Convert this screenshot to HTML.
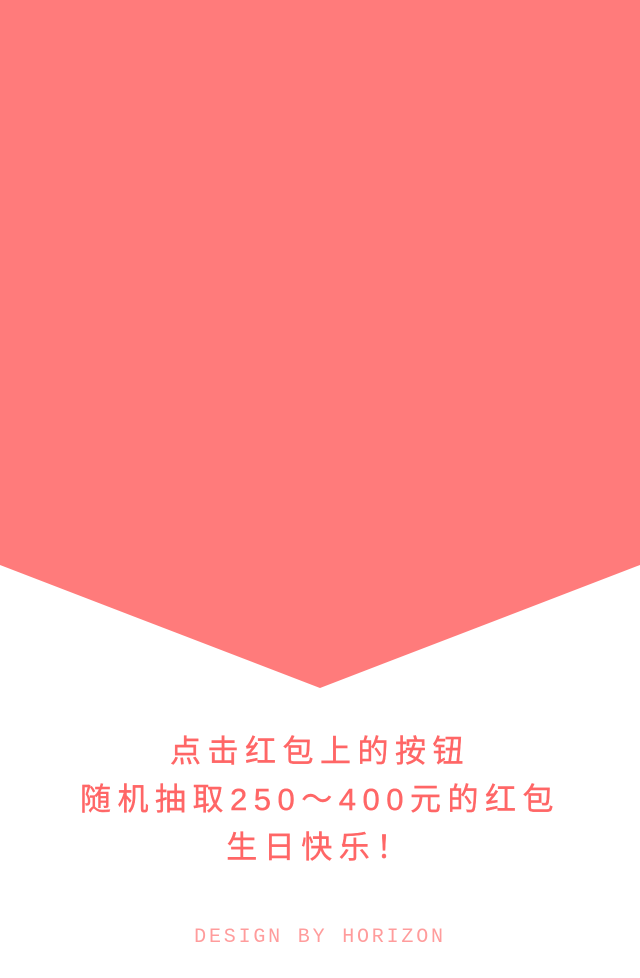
<!DOCTYPE html>
<html><head><meta charset="utf-8"><style>
html,body{margin:0;padding:0;background:#fff;}
#root{position:relative;width:640px;height:978px;overflow:hidden;background:#fff;}
svg{position:absolute;left:0;top:0;}
.line{position:absolute;left:0;width:640px;text-align:center;color:#FF6666;font-family:"Liberation Sans","WenQuanYi Zen Hei","Noto Sans CJK SC",sans-serif;font-size:31px;line-height:48px;letter-spacing:6.5px;white-space:nowrap;-webkit-text-stroke:0.4px #FF6666;}
#footer{position:absolute;left:0;width:640px;top:924px;text-align:center;color:#FF9C9C;font-family:"Liberation Mono",monospace;font-size:20px;line-height:28px;letter-spacing:2.8px;}
</style></head><body>
<div id="root">
<svg width="640" height="978">
<polygon points="0,0 640,0 640,565 320,688 0,565" fill="#FF7B7B"/>
</svg>
<div class="line" style="top:728px">点击红包上的按钮</div>
<div class="line" style="top:776px">随机抽取250～400元的红包</div>
<div class="line" style="top:824px">生日快乐！</div>
<div id="footer">DESIGN BY HORIZON</div>
</div>
</body></html>
